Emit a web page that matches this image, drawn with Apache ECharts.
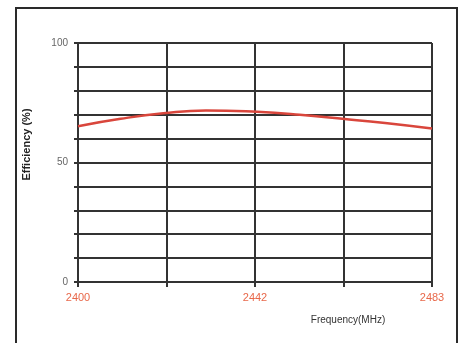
<!DOCTYPE html>
<html>
<head>
<meta charset="utf-8">
<script src="https://cdn.jsdelivr.net/npm/echarts@6/dist/echarts.min.js"></script>
<style>html,body{margin:0;padding:0;background:#fff;}#c{width:460px;height:343px;}</style>
</head>
<body>
<div id="c"></div>
<script>
var frequencies = [2400, 2410, 2420, 2430, 2442, 2452, 2462, 2472, 2483];
var efficiency = [65.2, 68.3, 70.6, 71.8, 71.2, 70.0, 68.3, 66.5, 64.2];
var xTickLabels = ['2400', '2442', '2483'];
var yTickLabels = ['0', '50', '100'];

var chart = echarts.init(document.getElementById('c'));
var xMin = frequencies[0], xMax = frequencies[frequencies.length - 1];
chart.setOption({
  animation: false,
  backgroundColor: '#fff',
  graphic: [{
    type: 'rect', shape: {x: 16, y: 8, width: 441, height: 350},
    style: {fill: 'none', stroke: '#2a2a2a', lineWidth: 2}, silent: true
  }],
  grid: {left: 78, right: 28, top: 43, bottom: 61},
  xAxis: {
    type: 'value', min: xMin, max: xMax, interval: (xMax - xMin) / 4,
    name: 'Frequency(MHz)', nameLocation: 'middle', nameGap: 33,
    nameTextStyle: {color: '#333', fontSize: 10, fontFamily: 'Liberation Sans', padding: [0, 0, 0, 186]},
    axisLine: {show: true, lineStyle: {color: '#333', width: 2}},
    axisTick: {show: true, length: 5, lineStyle: {color: '#333', width: 2}},
    splitLine: {show: true, lineStyle: {color: '#333', width: 2}},
    axisLabel: {
      color: '#e8684a', fontSize: 11, fontFamily: 'Liberation Sans', margin: 10,
      formatter: function (v) {
        var r = Math.round(v);
        for (var i = 0; i < xTickLabels.length; i++) { if (String(r) === xTickLabels[i]) return xTickLabels[i]; }
        return '';
      }
    }
  },
  yAxis: {
    type: 'value', min: 0, max: 100, interval: 10,
    name: 'Efficiency (%)', nameLocation: 'middle', nameGap: 46, nameRotate: 90,
    nameTextStyle: {color: '#222', fontSize: 11, fontWeight: 'bold', fontFamily: 'Liberation Sans', padding: [0, 0, 0, 36]},
    axisLine: {show: true, lineStyle: {color: '#333', width: 2}},
    axisTick: {show: true, length: 4, lineStyle: {color: '#333', width: 2}},
    splitLine: {show: true, lineStyle: {color: '#333', width: 2}},
    axisLabel: {
      color: '#666', fontSize: 10, fontFamily: 'Liberation Sans', margin: 10,
      formatter: function (v) { return yTickLabels.indexOf(String(v)) >= 0 ? String(v) : ''; }
    }
  },
  series: [{
    type: 'line', smooth: true, symbol: 'none',
    lineStyle: {color: '#d9463c', width: 2.5},
    data: frequencies.map(function (f, i) { return [f, efficiency[i]]; })
  }]
});
</script>
</body>
</html>
